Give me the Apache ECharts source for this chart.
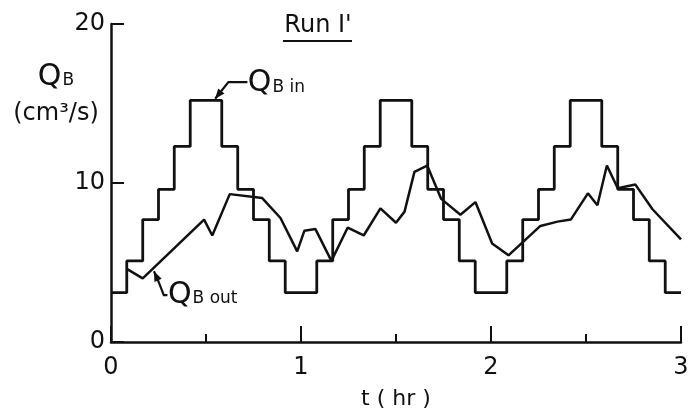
<!DOCTYPE html>
<html><head><meta charset="utf-8">
<script src="https://cdn.jsdelivr.net/npm/echarts@6/dist/echarts.min.js"></script>
<style>html,body{margin:0;padding:0;background:#fff}#c{width:692px;height:412px}</style>
</head><body><div id="c"></div>
<script>
// step edges (hours, 5-minute steps)
const stepEdges = [0.000,0.083,0.167,0.250,0.333,0.417,0.500,0.583,0.667,0.750,0.833,0.917,
  1.000,1.083,1.167,1.250,1.333,1.417,1.500,1.583,1.667,1.750,1.833,1.917,
  2.000,2.083,2.167,2.250,2.333,2.417,2.500,2.583,2.667,2.750,2.833,2.917,3.000];
// Q_B in during each step (cm^3/s)
const qbIn = [3.1,5.1,7.7,9.6,12.3,15.2,15.2,12.3,9.6,7.7,5.1,3.1,
  3.1,5.1,7.7,9.6,12.3,15.2,15.2,12.3,9.6,7.7,5.1,3.1,
  3.1,5.1,7.7,9.6,12.3,15.2,15.2,12.3,9.6,7.7,5.1,3.1];
// Q_B out
const outT = [0.083,0.167,0.49,0.533,0.625,0.796,0.892,0.98,1.018,1.076,1.16,1.246,1.33,1.418,1.5,
  1.545,1.597,1.664,1.738,1.839,1.918,2.006,2.092,2.26,2.35,2.42,2.51,2.56,2.61,2.667,2.76,2.85,3.0];
const outV = [4.6,4.0,7.7,6.7,9.3,9.05,7.8,5.7,7.0,7.1,5.1,7.2,6.7,8.4,7.5,
  8.2,10.7,11.1,9.0,8.0,8.8,6.2,5.45,7.3,7.57,7.7,9.35,8.6,11.1,9.67,9.9,8.35,6.45];
const xTicks = ['0','1','2','3'];
const yTicks = ['0','10','20'];

const FONT = 'DejaVu Sans';
const INK = '#111';
const chart = echarts.init(document.getElementById('c'), null, {renderer:'canvas'});

const inData = stepEdges.map((t,i)=>[t, qbIn[Math.min(i, qbIn.length-1)]]);
const outData = outT.map((t,i)=>[t, outV[i]]);

chart.setOption({
  animation:false,
  backgroundColor:'#fff',
  grid:{left:111,right:11,top:24,bottom:70,containLabel:false,outerBoundsMode:'none'},
  xAxis:{type:'value',min:0,max:3,interval:1,
    axisLine:{show:true,lineStyle:{color:INK,width:2.5}},
    axisTick:{show:true,inside:true,length:16,lineStyle:{color:INK,width:2}},
    minorTick:{show:true,splitNumber:2,length:8,lineStyle:{color:INK,width:2}},
    splitLine:{show:false},
    axisLabel:{color:INK,fontFamily:FONT,fontSize:24,margin:14,
      formatter:v=>xTicks[Math.round(v)]},
    name:'t ( hr )',nameLocation:'middle',nameGap:46,
    nameTextStyle:{color:INK,fontFamily:FONT,fontSize:22}
  },
  yAxis:{type:'value',min:0,max:20,interval:10,
    axisLine:{show:true,lineStyle:{color:INK,width:2.5}},
    axisTick:{show:true,inside:true,length:13,lineStyle:{color:INK,width:2}},
    splitLine:{show:false},
    axisLabel:{color:INK,fontFamily:FONT,fontSize:24,margin:6,
      formatter:v=>yTicks[Math.round(v/10)]}
  },
  series:[
    {name:'QB in',type:'line',step:'end',data:inData,showSymbol:false,
      lineStyle:{color:INK,width:2.8},z:3},
    {name:'QB out',type:'line',data:outData,showSymbol:false,
      lineStyle:{color:INK,width:2.5},z:4}
  ]
});

function px(p){return chart.convertToPixel({gridIndex:0}, p);}
function arrowHead(tip, from){
  const dx=tip[0]-from[0], dy=tip[1]-from[1];
  const L=Math.hypot(dx,dy), ux=dx/L, uy=dy/L;
  const len=10, hw=4;
  const bx=tip[0]-ux*len, by=tip[1]-uy*len;
  return {type:'polygon',shape:{points:[tip,[bx-uy*hw,by+ux*hw],[bx+uy*hw,by-ux*hw]]},
    style:{fill:INK},z:10};
}
// annotation anchors in data coordinates
const inLabel = [0.72,16.25];
const inPath = [[0.718,16.35],[0.618,16.35],[0.548,15.3]];
const outLabel = [0.30,2.95];
const outPath = [[0.297,2.95],[0.278,2.95],[0.245,3.95],[0.226,4.45]];

const ip = inPath.map(px), op = outPath.map(px);
const il = px(inLabel), ol = px(outLabel);
const qRich = {q:{fontFamily:FONT,fontSize:30,fill:INK},b:{fontFamily:FONT,fontSize:17,fill:INK,padding:[7,0,0,1]}};
chart.setOption({graphic:[
  {type:'polyline',shape:{points:ip},style:{stroke:INK,lineWidth:2.2,fill:null},z:10},
  arrowHead(ip[ip.length-1], ip[ip.length-2]),
  {type:'text',x:il[0],y:il[1],style:{text:'{q|Q}{b|B in}',rich:qRich,verticalAlign:'middle',align:'left'},z:10},
  {type:'polyline',shape:{points:op},style:{stroke:INK,lineWidth:2.2,fill:null},z:10},
  arrowHead(op[op.length-1], op[op.length-2]),
  {type:'text',x:ol[0],y:ol[1],style:{text:'{q|Q}{b|B out}',rich:qRich,verticalAlign:'middle',align:'left'},z:10},
  // title
  {type:'text',x:318,y:26,style:{text:"Run I'",fontFamily:FONT,fontSize:24,fill:INK,align:'center',verticalAlign:'middle'},z:10},
  {type:'line',shape:{x1:283,y1:41,x2:352,y2:41},style:{stroke:INK,lineWidth:2},z:10},
  // y-axis name
  {type:'text',x:56,y:77,style:{text:'{q|Q}{b|B}',rich:qRich,align:'center',verticalAlign:'middle'},z:10},
  {type:'text',x:56,y:114,style:{text:'(cm³/s)',fontFamily:FONT,fontSize:24,fill:INK,align:'center',verticalAlign:'middle'},z:10}
]});
</script></body></html>
